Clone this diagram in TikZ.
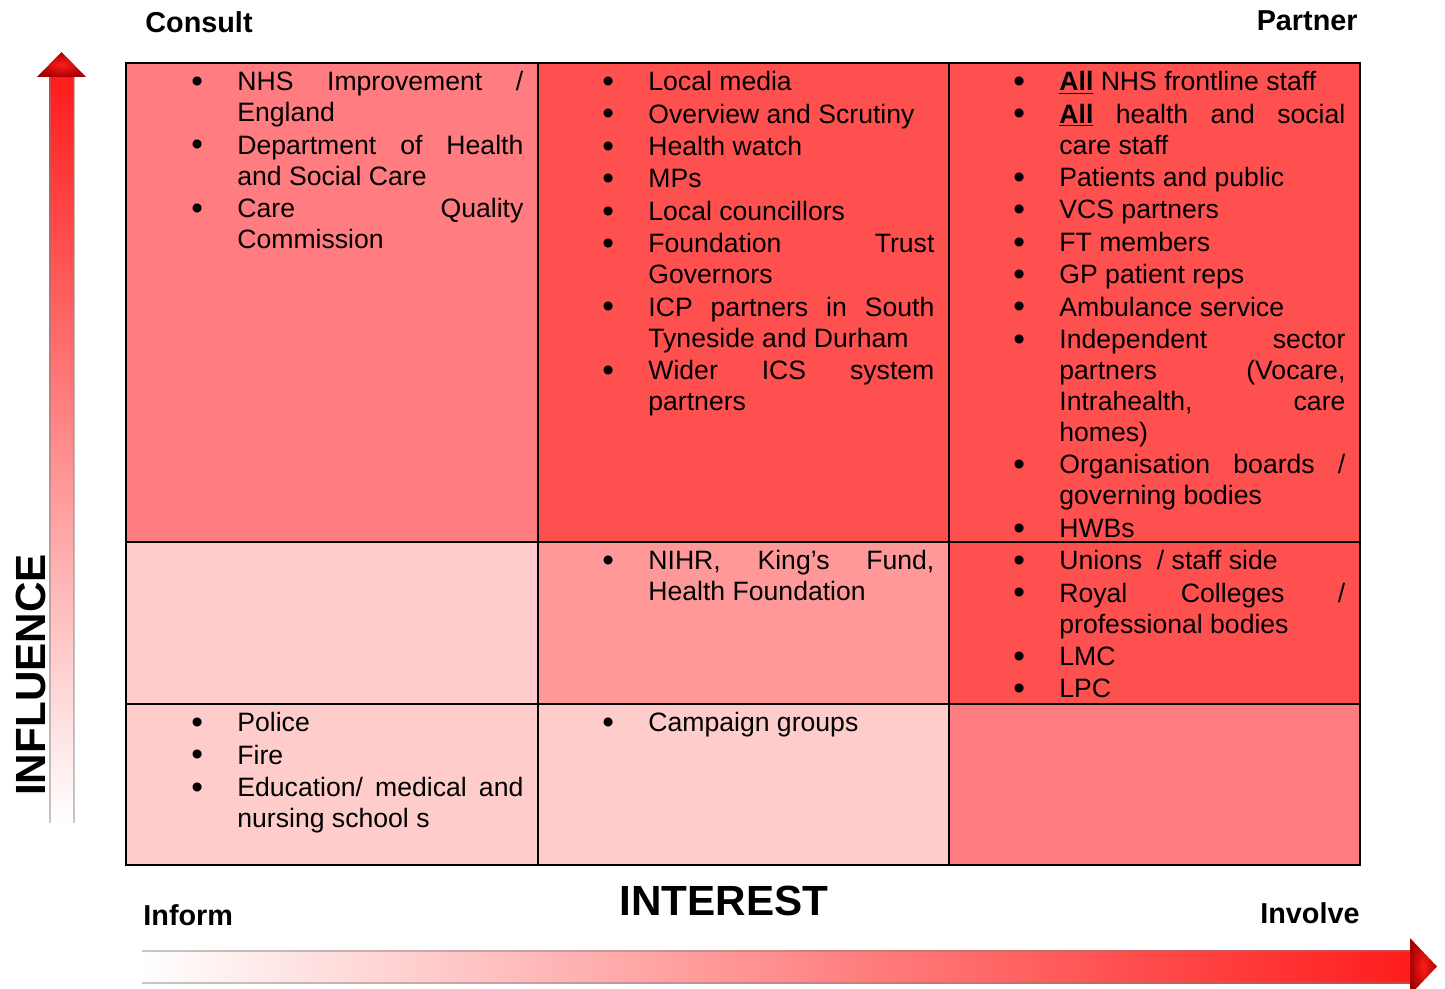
\documentclass[tikz,border=0pt]{standalone}
\usepackage{fontspec}
\setmainfont{Liberation Sans}
\usepackage{tikz}
\usetikzlibrary{positioning, shapes}

\definecolor{rose}{HTML}{FF7C80}
\definecolor{scarlet}{HTML}{FF5050}
\definecolor{salmon}{HTML}{FF9999}
\definecolor{blush}{HTML}{FFCCCC}
\definecolor{arrowred}{HTML}{FF1C1C}
\definecolor{arrowdark}{HTML}{A80000}

% one bullet point of a cell
\newcommand{\stk}[1]{\parskip=0.7pt\noindent\hangindent=23pt\hangafter=1%
	\hbox to 23pt{\raisebox{-0.07em}{\scalebox{1.25}{\textbullet}}\hss}#1\par}
\newcommand{\allmark}{\underline{\textbf{All}}}

\tolerance=10000
\hbadness=10000
\hyphenpenalty=10000

\begin{document}
\begin{tikzpicture}[x=0.5pt, y=-0.5pt,
	cell/.style={anchor=north west, inner sep=0pt, text width=166pt, align=justify,
		font=\fontsize{13.3}{15.5}\selectfont},
	corner/.style={inner sep=0pt, font=\fontsize{14.4}{17}\selectfont\bfseries},
	axislabel/.style={inner sep=0pt, font=\fontsize{21.1}{25}\selectfont\bfseries},
	grid/.style={black, line width=1.2pt},
	rim/.style={gray, line width=1pt, opacity=0.45}]

\useasboundingbox (0,0) rectangle (1445,989);

\def \xl{126}
\def \xr{1360}
\def \yt{63}
\def \yb{865}

% cell fills
\foreach \xa/\xb/\ya/\yc/\tint in {
	126/538/63/542/rose, 538/949/63/542/scarlet, 949/1360/63/542/scarlet,
	126/538/542/704/blush, 538/949/542/704/salmon, 949/1360/542/704/scarlet,
	126/538/704/865/blush, 538/949/704/865/blush, 949/1360/704/865/rose} {
	\fill[\tint] (\xa, \ya) rectangle (\xb, \yc);
}

% grid
\foreach \x in {538, 949} {
	\draw[grid] (\x, \yt) -- (\x, \yb); % column line
}
\foreach \y in {542, 704} {
	\draw[grid] (\xl, \y) -- (\xr, \y); % row line
}
\draw[grid] (\xl, \yt) rectangle (\xr, \yb);

% top row
\node[cell] (consult) at (191, 71) {%
	\stk{NHS Improvement / England}%
	\stk{Department of Health and Social Care}%
	\stk{Care Quality Commission}};
\node[cell] (keepsat) at (602, 71) {%
	\stk{Local media}%
	\stk{Overview and Scrutiny}%
	\stk{Health watch}%
	\stk{MPs}%
	\stk{Local councillors}%
	\stk{Foundation Trust Governors}%
	\stk{ICP partners in South Tyneside and Durham}%
	\stk{Wider ICS system partners}};
\node[cell] (partner) at (1013, 71) {%
	\stk{\allmark{} NHS frontline staff}%
	\stk{\allmark{} health and social care staff}%
	\stk{Patients and public}%
	\stk{VCS partners}%
	\stk{FT members}%
	\stk{GP patient reps}%
	\stk{Ambulance service}%
	\stk{Independent sector partners (Vocare, Intrahealth, care\linebreak homes)}%
	\stk{Organisation boards / governing bodies}%
	\stk{HWBs}};

% middle row
\node[cell] (involvemid) at (602, 550) {%
	\stk{NIHR, King's Fund, Health Foundation}};
\node[cell] (partnermid) at (1013, 550) {%
	\stk{Unions \ / staff side}%
	\stk{Royal Colleges / professional bodies}%
	\stk{LMC}%
	\stk{LPC}};

% bottom row
\node[cell] (inform) at (191, 712) {%
	\stk{Police}%
	\stk{Fire}%
	\stk{Education/ medical and nursing school s}};
\node[cell] (informmid) at (602, 712) {%
	\stk{Campaign groups}};

% corner and axis labels
\node[corner, anchor=base west] (consultlbl) at (145, 33) {Consult};
\node[corner, anchor=base east] (partnerlbl) at (1358, 31) {Partner};
\node[corner, anchor=base west] (informlbl) at (143, 925) {Inform};
\node[corner, anchor=base east] (involvelbl) at (1360, 923) {Involve};
\node[axislabel, anchor=base] (interest) at (724, 915) {INTEREST};
\node[axislabel, anchor=base, rotate=90] (influence) at (45, 675) {INFLUENCE};

% influence arrow
\shade[bottom color=white, middle color=arrowred!25, top color=arrowred] (49, 77) rectangle (74, 823);
\draw[rim] (49.5, 77) -- (49.5, 823);
\draw[rim] (73.5, 77) -- (73.5, 823);
\shade[inner color=arrowred, outer color=arrowdark] (37, 77) -- (86, 77) -- (61.5, 52) -- cycle;

% interest arrow
\shade[left color=white, middle color=arrowred!25, right color=arrowred] (142, 950) rectangle (1410, 983);
\draw[rim] (142, 950.5) -- (1410, 950.5);
\draw[rim] (142, 982.5) -- (1410, 982.5);
\shade[inner color=arrowred, outer color=arrowdark] (1410, 938) -- (1410, 995) -- (1437, 966.5) -- cycle;

\end{tikzpicture}
\end{document}
